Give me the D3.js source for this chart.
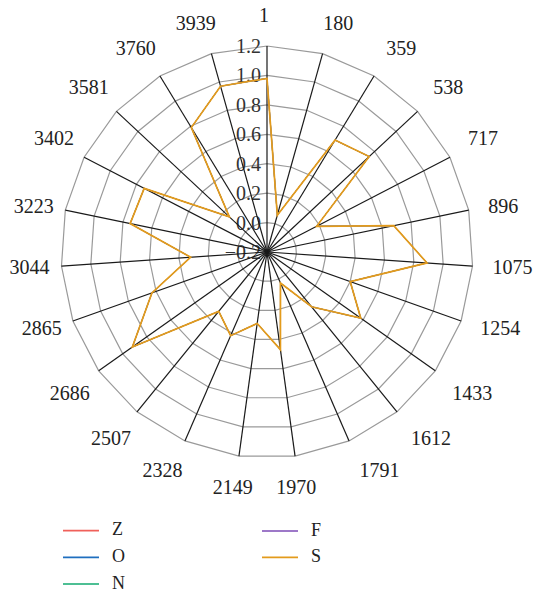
<!DOCTYPE html>
<html>
<head>
<meta charset="utf-8">
<script src="https://cdn.jsdelivr.net/npm/d3@7"></script>
<style>
  html, body { margin: 0; padding: 0; background: #fff; }
  svg { display: block; }
  text { font-family: "Liberation Serif", "Times New Roman", serif; }
</style>
</head>
<body>
<svg id="chart" width="533" height="593"></svg>
<script>
const categories = ["1","180","359","538","717","896","1075","1254","1433","1612","1791","1970","2149","2328","2507","2686","2865","3044","3223","3402","3581","3760","3939"];
const radialTicks = [-0.2, 0.0, 0.2, 0.4, 0.6, 0.8, 1.0, 1.2];
const seriesNames = ["Z", "O", "N", "F", "S"];
const seriesColors = ["#f0605a", "#1f6fbf", "#4dbf94", "#9d78c8", "#e39b1c"];
const valuesS = [0.98, 0.06, 0.69, 0.75, 0.18, 0.68, 0.89, 0.40, 0.58, 0.28, 0.03, 0.47, 0.29, 0.42, 0.32, 0.92, 0.63, 0.32, 0.75, 0.74, 0.15, 0.79, 0.97];
const valuesZ = valuesS.slice();
const valuesO = valuesS.slice();
const valuesN = valuesS.slice();
const valuesF = valuesS.slice();
const seriesValues = [valuesZ, valuesO, valuesN, valuesF, valuesS];

const svg = d3.select("#chart");
const cx = 267, cy = 252, R = 206;
const g = svg.append("g").attr("transform", `translate(${cx},${cy})`);

const r = d3.scaleLinear().domain([-0.2, 1.2]).range([0, R]);
const n = categories.length;
const angle = d3.scaleLinear().domain([0, n]).range([0, 2 * Math.PI]);

// grid rings (polygonal)
const ringLine = d3.lineRadial()
  .angle((d, i) => angle(i))
  .radius(d => r(d))
  .curve(d3.curveLinearClosed);
g.append("g").selectAll("path")
  .data(radialTicks.slice(1))
  .join("path")
  .attr("d", t => ringLine(categories.map(() => t)))
  .attr("fill", "none")
  .attr("stroke", "#9a9a9a")
  .attr("stroke-width", 1.2);

// tick labels
g.append("g").selectAll("text")
  .data(radialTicks)
  .join("text")
  .attr("x", -6)
  .attr("y", t => -r(t))
  .attr("dy", "0.35em")
  .attr("text-anchor", "end")
  .attr("font-size", 20)
  .attr("fill", "#333")
  .text(t => d3.format(".1f")(t));

// spokes
g.append("g").selectAll("line")
  .data(categories)
  .join("line")
  .attr("x1", 0).attr("y1", 0)
  .attr("x2", (d, i) => R * Math.sin(angle(i)))
  .attr("y2", (d, i) => -R * Math.cos(angle(i)))
  .attr("stroke", "#1a1a1a")
  .attr("stroke-width", 1.2);

// category labels: anchored outside the outer ring, box pushed away from the chart
const ramp = (v, a, b) => Math.max(0, Math.min(1, (v - a) / (b - a)));
const labelGap = R + 16, labelGapY = R + 21, halfH = 10;
g.append("g").selectAll("text")
  .data(categories)
  .join("text")
  .attr("text-anchor", "middle")
  .attr("dy", "0.35em")
  .attr("font-size", 20)
  .attr("fill", "#222")
  .text(d => d)
  .each(function (d, i) {
    const a = angle(i), s = Math.sin(a), c = Math.cos(a);
    const hw = this.getComputedTextLength() / 2;
    const fx = ramp(Math.abs(s), 0.12, 0.35) * Math.sign(s);
    const fy = ramp(Math.abs(c), 0.36, 0.45) * Math.sign(c);
    const shift = 4 * Math.abs(fx) - 3 * (1 - Math.abs(fx));
    d3.select(this)
      .attr("x", labelGap * s + hw * fx + shift)
      .attr("y", -labelGapY * c - halfH * fy);
  });

// series (S drawn last and slightly wider so it covers the identical series beneath)
const seriesLine = d3.lineRadial()
  .angle((d, i) => angle(i))
  .radius(d => r(d))
  .curve(d3.curveLinearClosed);
g.append("g").selectAll("path")
  .data(seriesValues)
  .join("path")
  .attr("d", d => seriesLine(d))
  .attr("fill", "none")
  .attr("stroke", (d, i) => seriesColors[i])
  .attr("stroke-width", (d, i) => i === seriesValues.length - 1 ? 1.7 : 1.0);

// legend
const legendPos = [[63, 530.7], [63, 557.3], [63, 584], [262, 531], [262, 557.3]];
const lg = svg.append("g").selectAll("g")
  .data(seriesNames)
  .join("g")
  .attr("transform", (d, i) => `translate(${legendPos[i][0]},${legendPos[i][1]})`);
lg.append("line")
  .attr("x1", 0).attr("x2", 36).attr("y1", 0).attr("y2", 0)
  .attr("stroke", (d, i) => seriesColors[i])
  .attr("stroke-width", 1.8);
lg.append("text")
  .attr("x", 49)
  .attr("y", -1.8)
  .attr("dy", "0.35em")
  .attr("font-size", 18)
  .attr("fill", "#222")
  .text(d => d);
</script>
</body>
</html>
